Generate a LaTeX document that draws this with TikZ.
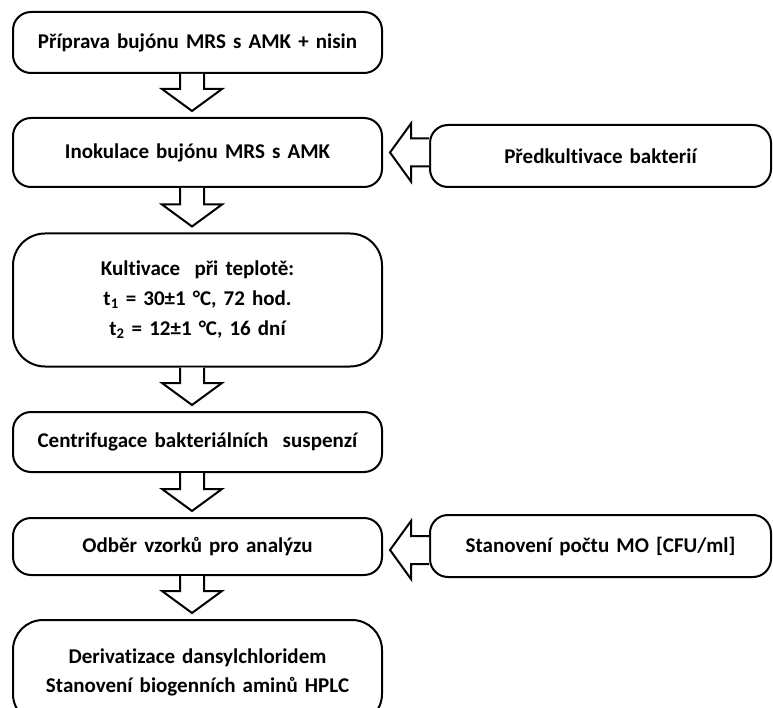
\documentclass[tikz,border=0pt]{standalone}
\usepackage{fontspec}
\setmainfont[WordSpace={1.5}, Ligatures=NoCommon]{Carlito}
\usetikzlibrary{calc}
\begin{document}
\begin{tikzpicture}[x=1pt,y=-1pt,
  box/.style={draw, line width=2pt, rounded corners=18pt, align=center, inner sep=0pt,
    font=\bfseries\fontsize{21}{30}\selectfont},
  blk/.style={draw, line width=2pt, fill=white, line join=miter}]
\clip (0,0) rectangle (773,708);
% left column
\node[box, minimum width=369pt, minimum height=61pt] (b1) at (197.5,42.5) {Příprava bujónu MRS s AMK + nisin};
\node[box, minimum width=369pt, minimum height=69pt] (b2) at (197.5,152.5) {Inokulace bujónu MRS s AMK};
\node[box, rounded corners=32pt, minimum width=369pt, minimum height=133pt] (b3) at (197.5,300) {Kultivace\ \ při teplotě:\\t\textsubscript{1} = 30±1 °C, 72 hod.\\t\textsubscript{2} = 12±1 °C, 16 dní};
\node[box, minimum width=369pt, minimum height=60pt] (b4) at (197.5,442) {Centrifugace bakteriálních\ \ suspenzí};
\node[box, minimum width=369pt, minimum height=57pt] (b5) at (197.5,546.5) {Odběr vzorků pro analýzu};
\node[box, rounded corners=30pt, minimum width=369pt, minimum height=104pt, font=\bfseries\fontsize{21}{29}\selectfont] (b6) at (197.5,672) {Derivatizace dansylchloridem\\Stanovení biogenních aminů HPLC};
% right column
\node[box, minimum width=341pt, minimum height=62pt] (r1) at (600.5,156) {Předkultivace bakterií};
\node[box, minimum width=341pt, minimum height=62pt] (r2) at (600.5,546) {Stanovení počtu MO [CFU/ml]};
% vertical block arrows
\coordinate (ax) at (192,0);
\foreach \u/\v in {b1/b2, b2/b3, b3/b4, b4/b5, b5/b6}{
  \draw[blk] ($(ax |- \u.south)+(-12,0)$) -- ($(ax |- \v.north)+(-12,-28)$)
    -- ($(ax |- \v.north)+(-30,-28)$) -- ($(ax |- \v.north)+(0,-6)$)
    -- ($(ax |- \v.north)+(30,-28)$) -- ($(ax |- \v.north)+(12,-28)$)
    -- ($(ax |- \u.south)+(12,0)$);
}
% horizontal block arrows
\foreach \u/\v/\dy in {r1/b2/0, r2/b5/3.5}{
  \draw[blk] ($(\u.west |- \v.east)+(0,\dy-14)$) -- ($(\v.east)+(28,\dy-14)$)
    -- ($(\v.east)+(28,\dy-29)$) -- ($(\v.east)+(7,\dy)$)
    -- ($(\v.east)+(28,\dy+29)$) -- ($(\v.east)+(28,\dy+14)$)
    -- ($(\u.west |- \v.east)+(0,\dy+14)$);
}
\end{tikzpicture}
\end{document}
